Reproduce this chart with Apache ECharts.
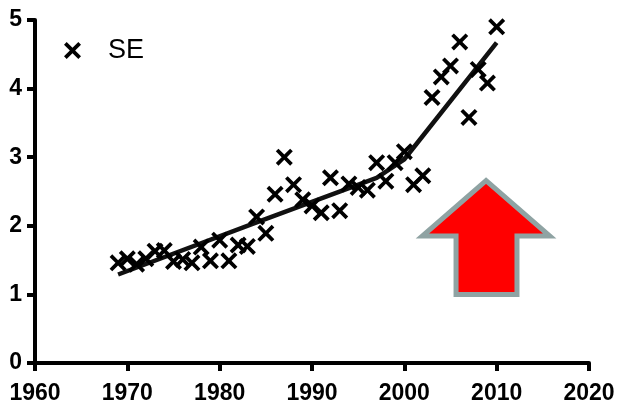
<!DOCTYPE html>
<html>
<head>
<meta charset="utf-8">
<script src="https://cdn.jsdelivr.net/npm/echarts@6/dist/echarts.min.js"></script>
<style>
html,body{margin:0;padding:0;background:#fff;}
#c{width:620px;height:401px;}
</style>
</head>
<body>
<div id="c"></div>
<script>
// ---- data ----
const years = [1969,1970,1971,1972,1973,1974,1975,1976,1977,1978,1979,1980,1981,1982,1983,1984,1985,1986,1987,1988,1989,1990,1991,1992,1993,1994,1995,1996,1997,1998,1999,2000,2001,2002,2003,2004,2005,2006,2007,2008,2009,2010];
const seValues = [1.46,1.52,1.44,1.52,1.63,1.64,1.48,1.51,1.46,1.69,1.49,1.79,1.49,1.72,1.70,2.13,1.89,2.46,3.00,2.60,2.38,2.29,2.19,2.70,2.22,2.61,2.56,2.52,2.92,2.65,2.92,3.08,2.60,2.73,3.87,4.17,4.33,4.68,3.58,4.28,4.08,4.90];
const fitYears = [1969,1984,1997,2000,2010];
const fitValues = [1.29,2.05,2.70,2.97,4.67];
const xTicks = [1960,1970,1980,1990,2000,2010,2020];
const yTicks = [0,1,2,3,4,5];
// arrow outline in data coordinates [year, value]
const arrowPts = [[2008.85,2.66],[2001.95,1.85],[2005.6,1.85],[2005.6,1.0],[2012.2,1.0],[2012.2,1.85],[2015.75,1.85]];

const X_PATH = 'path://M2.5,0 L8,5.5 L13.5,0 L16,2.5 L10.5,8 L16,13.5 L13.5,16 L8,10.5 L2.5,16 L0,13.5 L5.5,8 L0,2.5 Z';

const chart = echarts.init(document.getElementById('c'), null, {renderer:'canvas'});
const axisFont = {fontFamily:'Liberation Sans, Arial, sans-serif', fontWeight:'bold', fontSize:23, color:'#000'};
chart.setOption({
  animation:false,
  backgroundColor:'#fff',
  grid:{left:35, right:31, top:20, bottom:38, containLabel:false, outerBoundsMode:'none'},
  legend:{
    data:['SE'], left:59, top:32, itemWidth:17, itemHeight:17,
    textStyle:{fontFamily:'Liberation Sans, Arial, sans-serif', fontSize:27, color:'#000', padding:[0,0,0,22]}
  },
  xAxis:{
    type:'value', min:xTicks[0], max:xTicks[xTicks.length-1], interval:10,
    axisLine:{onZero:false, lineStyle:{color:'#000', width:4}},
    axisTick:{show:true, length:8, lineStyle:{color:'#000', width:4}},
    axisLabel:{...axisFont, margin:19, formatter:v=>String(v)},
    splitLine:{show:false}
  },
  yAxis:{
    type:'value', min:yTicks[0], max:yTicks[yTicks.length-1], interval:1,
    axisLine:{show:true, onZero:false, lineStyle:{color:'#000', width:4}},
    axisTick:{show:true, length:8, lineStyle:{color:'#000', width:4}},
    axisLabel:{...axisFont, margin:13},
    splitLine:{show:false}
  },
  series:[
    {
      name:'fit', type:'line', data:fitYears.map((y,i)=>[y,fitValues[i]]),
      showSymbol:false, symbol:'none', lineStyle:{color:'#111', width:4.5}, z:3, silent:true
    },
    {
      name:'SE', type:'scatter', data:years.map((y,i)=>[y,seValues[i]]),
      symbol:X_PATH, symbolSize:17, itemStyle:{color:'#000', opacity:1}, z:4
    }
  ]
});

const pts = arrowPts.map(p=>chart.convertToPixel({gridIndex:0}, p));
chart.setOption({
  graphic:[{
    type:'polygon', z:10,
    shape:{points:pts},
    style:{fill:'#ff0000', stroke:'#8fa3a3', lineWidth:5, lineJoin:'miter'}
  }]
});
</script>
</body>
</html>
